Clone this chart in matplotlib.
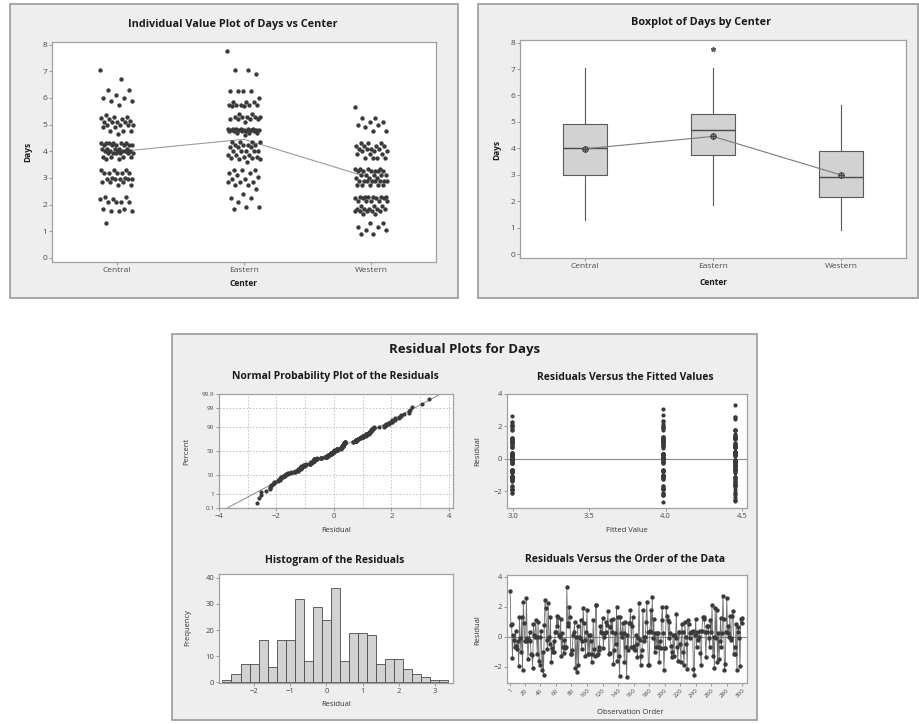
import numpy as np
import matplotlib
matplotlib.use("Agg")
import matplotlib.pyplot as plt
from matplotlib.patches import Rectangle
from statistics import NormalDist

W, H = 919, 724

centers = ["Central", "Eastern", "Western"]

central_days = ([7.05, 6.7, 6.3, 6.3, 6.1, 6.0, 6.0, 5.9, 5.9, 5.75,
                 5.35, 5.3, 5.3, 5.25, 5.2, 5.2, 5.15] + [5.1] * 4 + [5.0] * 4 + [4.9] * 2 + [4.75] * 3 + [4.65]
                + [4.3] * 6 + [4.25] * 6 + [4.1] * 5 + [4.0] * 6 + [3.95] * 6 + [3.8] * 4 + [3.7] * 2
                + [3.3] * 3 + [3.2] * 5 + [3.0] * 2 + [2.95] * 5 + [2.85] * 3 + [2.75] * 2
                + [2.3] * 2 + [2.2] * 2 + [2.1] * 4 + [1.85] * 2 + [1.75] * 3 + [1.3])

eastern_days = ([7.75, 7.05, 7.05, 6.9] + [6.25] * 4 + [6.0] + [5.85] * 3 + [5.75] * 5 + [5.7] * 2
                + [5.4] * 2 + [5.3] * 5
                + [5.2] * 4 + [5.1] + [4.85] * 6 + [4.8] * 6 + [4.75] * 5 + [4.7] * 3
                + [4.6] + [4.35] * 4 + [4.25] * 4 + [4.15] * 3 + [4.0] * 5 + [3.85] * 3 + [3.8] * 2 + [3.75] * 2
                + [3.7] * 2 + [3.6] + [3.3] * 3 + [3.2] * 2 + [3.1, 3.05] + [2.95] * 2 + [2.85] * 3 + [2.75] * 2
                + [2.6, 2.4] + [2.25] * 2 + [2.1] + [1.9] * 2 + [1.85])

western_days = ([5.65, 5.25, 5.25, 5.1, 5.1, 5.0, 5.0, 4.9, 4.75, 4.75]
                + [4.3] * 3 + [4.2] * 4 + [4.1] * 4 + [4.0] * 3 + [3.9] * 3 + [3.75] * 4
                + [3.35] * 4 + [3.25] * 6 + [3.1] * 5 + [3.0] * 3 + [2.9] * 8 + [2.75] * 5
                + [2.3] * 6 + [2.25] * 4 + [2.15] * 5 + [1.95] * 3 + [1.85] * 5 + [1.75] * 5 + [1.65] * 2
                + [1.3] * 2 + [1.15] * 2 + [1.05] * 2 + [0.9] * 2)

# histogram of residuals
hist_mids = [-2.75, -2.5, -2.25, -2.0, -1.75, -1.5, -1.25, -1.0, -0.75, -0.5, -0.25, 0.0, 0.25,
             0.5, 0.75, 1.0, 1.25, 1.5, 1.75, 2.0, 2.25, 2.5, 2.75, 3.0, 3.25]
hist_counts = [1, 3, 7, 7, 16, 6, 16, 16, 32, 8, 29, 24, 36, 8, 19, 19, 18, 7, 9, 9, 5, 3, 2, 1, 1]

order_ticks = [1, 20, 40, 60, 80, 100, 120, 140, 160, 180, 200, 220, 240, 260, 280, 300]
prob_ticks = [0.1, 1, 10, 50, 90, 99, 99.9]

DARK = '#3a3a3a'
plt.rcParams['font.family'] = ['Open Sans', 'DejaVu Sans']


def add_axes(fig, l, t, r, b):
    return fig.add_axes([l / W, 1 - b / H, (r - l) / W, (b - t) / H])


def panel(fig, l, t, r, b):
    fig.add_artist(Rectangle((l / W, 1 - b / H), (r - l) / W, (b - t) / H, transform=fig.transFigure,
                             facecolor='#eeeeee', edgecolor='#9a9a9a', linewidth=1.2, zorder=0))


def text(fig, x, y, s, size=7.5, bold=True, rot=0):
    fig.text(x / W, 1 - y / H, s, ha='center', va='center', fontsize=size, rotation=rot,
             fontweight='bold' if bold else 'normal', color='#1a1a1a' if bold else '#333333')


def style(ax, size=5.5):
    for s in ax.spines.values():
        s.set_color('#a0a0a0')
        s.set_linewidth(0.9)
    ax.tick_params(labelsize=size, colors='#8a8a8a', labelcolor='#4a4a4a', length=2, width=0.6, pad=1.5)


def main():
    groups = [np.array(central_days), np.array(eastern_days), np.array(western_days)]
    means = [g.mean() for g in groups]

    fig = plt.figure(figsize=(W / 100, H / 100), dpi=100)
    panel(fig, 10, 4, 458, 298)
    panel(fig, 478, 4, 918, 298)
    panel(fig, 172, 334, 757, 720)

    # individual value plot
    ax = add_axes(fig, 52, 42, 436, 262)
    for k, g in enumerate(groups):
        jit = ((np.arange(len(g)) * 0.618034) % 1 - 0.5) * 0.26
        ax.scatter(k + 1 + jit, g, s=10, color=DARK, linewidths=0, zorder=3)
    ax.plot([1, 2, 3], means, color='#9a9a9a', lw=0.8, zorder=2)
    ax.set_xlim(0.49, 3.51)
    ax.set_ylim(-0.15, 8.1)
    ax.set_xticks([1, 2, 3])
    ax.set_xticklabels(centers)
    ax.set_yticks(range(9))
    style(ax, 6)
    text(fig, 233, 24, "Individual Value Plot of Days vs Center", size=7.8)
    text(fig, 28, 152, "Days", size=6, rot=90)
    text(fig, 243, 284, "Center", size=6)

    # boxplot
    ax = add_axes(fig, 520, 40, 906, 258)
    ax.boxplot(groups, positions=[1, 2, 3], widths=0.34, patch_artist=True, showcaps=False,
               boxprops=dict(facecolor='#d2d2d2', edgecolor='#5a5a5a', linewidth=0.8),
               whiskerprops=dict(color='#5a5a5a', linewidth=0.8),
               medianprops=dict(color='#4a4a4a', linewidth=1.0),
               flierprops=dict(marker='*', markersize=3.5, markerfacecolor='#5a5a5a',
                               markeredgecolor='#5a5a5a'))
    ax.plot([1, 2, 3], means, color='#7a7a7a', lw=0.8, zorder=4)
    ax.plot([1, 2, 3], means, 'o', ms=4, mfc='#8a8a8a', mec=DARK, mew=0.7, zorder=5)
    ax.plot([1, 2, 3], means, '+', ms=4, color=DARK, mew=0.6, zorder=6)
    ax.set_xlim(0.49, 3.51)
    ax.set_ylim(-0.15, 8.1)
    ax.set_xticks([1, 2, 3])
    ax.set_xticklabels(centers)
    ax.set_yticks(range(9))
    style(ax, 6)
    text(fig, 701, 23, "Boxplot of Days by Center", size=7.8)
    text(fig, 497, 150, "Days", size=6, rot=90)
    text(fig, 713, 283, "Center", size=6)

    # residuals
    resid = np.concatenate([g - m for g, m in zip(groups, means)])
    fitted = np.concatenate([np.full(len(g), m) for g, m in zip(groups, means)])
    n = len(resid)
    # observation order: a fixed scrambling of the stored rows
    order = np.argsort((np.sin(np.arange(n) * 12.9898) * 43758.5453) % 1)

    text(fig, 465, 350, "Residual Plots for Days", size=9.5)

    # normal probability plot
    nd = NormalDist()
    ax = add_axes(fig, 219, 394, 453, 508)
    xs = np.sort(resid)
    zs = [nd.inv_cdf((i + 1 - 0.3) / (n + 0.4)) for i in range(n)]
    zlo, zhi = nd.inv_cdf(0.001), nd.inv_cdf(0.999)
    sd = resid.std(ddof=1)
    ax.plot([resid.mean() + sd * zlo, resid.mean() + sd * zhi], [zlo, zhi], color='#8a8a8a', lw=0.7, zorder=2)
    ax.scatter(xs, zs, s=9, color=DARK, linewidths=0, zorder=3)
    ax.set_xlim(-4, 4.14)
    ax.set_ylim(zlo, zhi)
    ax.set_xticks([-4, -2, 0, 2, 4])
    ax.set_xticks([-3, -1, 1, 3], minor=True)
    ax.set_yticks([nd.inv_cdf(p / 100) for p in prob_ticks])
    ax.set_yticklabels([str(p) for p in prob_ticks])
    ax.grid(True, which='both', linestyle=(0, (2, 2)), color='#bdbdbd', lw=0.6)
    ax.tick_params(which='minor', length=0)
    style(ax)
    ax.tick_params(axis='y', labelsize=4.5)
    text(fig, 335, 377, "Normal Probability Plot of the Residuals")
    text(fig, 336, 530, "Residual", size=5.5, bold=False)
    text(fig, 187, 451, "Percent", size=5.5, bold=False, rot=90)

    # residuals versus fitted values
    ax = add_axes(fig, 507, 394, 747, 508)
    ax.axhline(0, color='#8a8a8a', lw=0.8, zorder=2)
    ax.scatter(fitted, resid, s=9, color=DARK, linewidths=0, zorder=3)
    ax.set_xlim(2.96, 4.533)
    ax.set_ylim(-3.04, 4)
    ax.set_xticks([3.0, 3.5, 4.0, 4.5])
    ax.set_xticklabels(['3.0', '3.5', '4.0', '4.5'])
    ax.set_yticks([-2, 0, 2, 4])
    style(ax)
    text(fig, 625, 377, "Residuals Versus the Fitted Values")
    text(fig, 627, 530, "Fitted Value", size=5.5, bold=False)
    text(fig, 478, 451, "Residual", size=5.5, bold=False, rot=90)

    # histogram
    ax = add_axes(fig, 219, 574, 453, 683)
    ax.bar(hist_mids, hist_counts, width=0.25, color='#d2d2d2', edgecolor='#4a4a4a', linewidth=0.6)
    ax.set_xlim(-2.97, 3.5)
    ax.set_ylim(-0.3, 41.5)
    ax.set_xticks([-2, -1, 0, 1, 2, 3])
    ax.set_yticks([0, 10, 20, 30, 40])
    style(ax)
    text(fig, 335, 560, "Histogram of the Residuals")
    text(fig, 336, 705, "Residual", size=5.5, bold=False)
    text(fig, 188, 628, "Frequency", size=5.5, bold=False, rot=90)

    # residuals versus order
    ax = add_axes(fig, 507, 575, 747, 683)
    obs = np.arange(1, n + 1)
    ax.axhline(0, color='#8a8a8a', lw=0.8, zorder=1)
    ax.plot(obs, resid[order], color='#6e6e6e', lw=0.6, zorder=2)
    ax.scatter(obs, resid[order], s=10, color=DARK, linewidths=0, zorder=3)
    ax.set_xlim(-3, 306)
    ax.set_ylim(-3.07, 4.13)
    ax.set_xticks(order_ticks)
    ax.set_xticklabels([str(t) for t in order_ticks], rotation=45, ha='right', rotation_mode='anchor')
    ax.set_yticks([-2, 0, 2, 4])
    style(ax)
    ax.tick_params(axis='x', labelsize=4.5)
    text(fig, 625, 560, "Residuals Versus the Order of the Data")
    text(fig, 630, 712, "Observation Order", size=5.5, bold=False)
    text(fig, 478, 630, "Residual", size=5.5, bold=False, rot=90)

    fig.savefig("out.png", dpi=100)


if __name__ == '__main__':
    main()
